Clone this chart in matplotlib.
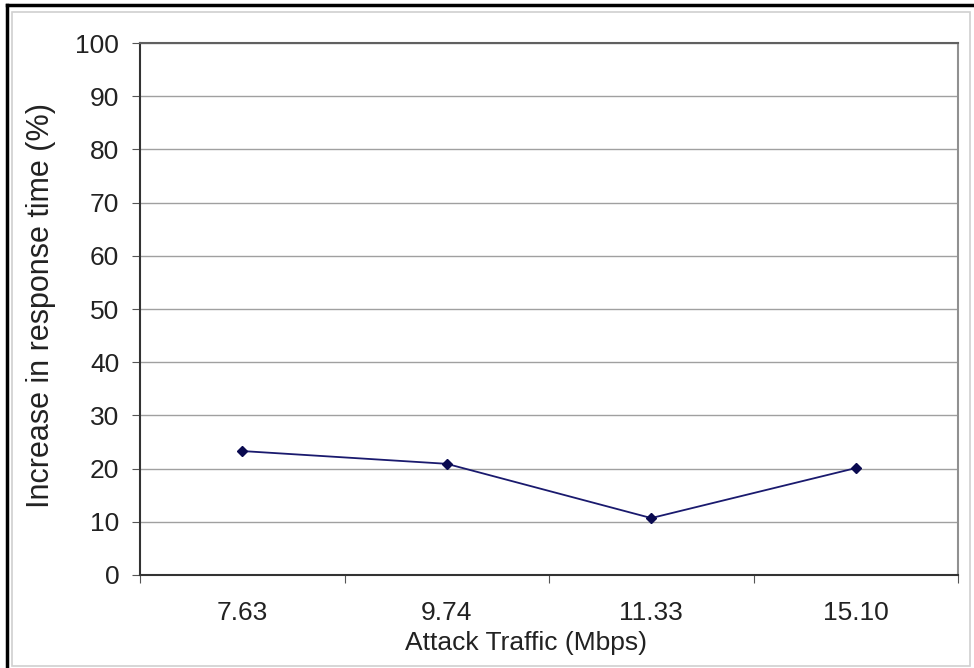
import matplotlib
matplotlib.use("Agg")
import matplotlib.pyplot as plt
from matplotlib.lines import Line2D
from matplotlib.patches import Rectangle

categories = ["7.63", "9.74", "11.33", "15.10"]
values = [23.3, 20.9, 10.7, 20.1]
yticks = [0, 10, 20, 30, 40, 50, 60, 70, 80, 90, 100]

plt.rcParams['font.family'] = ['Liberation Sans', 'DejaVu Sans']

W, H = 974, 668
fig = plt.figure(figsize=(W/100, H/100), dpi=100)
ax = fig.add_axes([140/W, 1-575/H, (958-140)/W, (575-43)/H])

x = list(range(len(categories)))
ax.plot(x, values, color='#1a1a6e', lw=1.3, marker='D', ms=5,
        markerfacecolor='#0a0a50', markeredgecolor='#0a0a50')

ax.set_xlim(-0.5, len(categories)-0.5)
ax.set_ylim(0, 100)
ax.set_yticks(yticks)
ax.set_yticklabels([str(v) for v in yticks], fontsize=19, color='#222222')
ax.yaxis.grid(True, color='#a0a0a0', lw=1)
ax.set_axisbelow(True)

ax.set_xticks([i-0.5 for i in range(len(categories)+1)])
ax.set_xticklabels([])
ax.set_xticks(x, minor=True)
ax.set_xticklabels(categories, minor=True, fontsize=19, color='#222222')
ax.tick_params(axis='x', which='minor', length=0, pad=19)
ax.tick_params(axis='x', which='major', length=6, direction='out', color='#555555')
ax.tick_params(axis='y', length=6, direction='out', color='#555555', pad=9)

for s in ['left', 'bottom']:
    ax.spines[s].set_color('#333333')
    ax.spines[s].set_linewidth(1.5)
ax.spines['top'].set_color('#606060')
ax.spines['top'].set_linewidth(1.5)
ax.spines['right'].set_color('#909090')
ax.spines['right'].set_linewidth(1.5)

fig.text(526/W, 1-643/H, "Attack Traffic (Mbps)", ha='center', va='center',
         fontsize=19, color='#222222')
fig.text(41/W, 1-306/H, "Increase in response time (%)", ha='center', va='center',
         rotation=90, fontsize=22, color='#222222')

# outer frame
fig.add_artist(Rectangle((12/W, 2/H), 958/W, 1-(12+2)/H, transform=fig.transFigure,
                         fill=False, edgecolor='#d0d0d0', lw=1.2))
fig.add_artist(Line2D([7/W, 7/W], [0, 1-5/H], transform=fig.transFigure, color='black', lw=2.5))
fig.add_artist(Line2D([7/W, 1], [1-5/H, 1-5/H], transform=fig.transFigure, color='black', lw=2.5))

fig.savefig("out.png", dpi=100)
